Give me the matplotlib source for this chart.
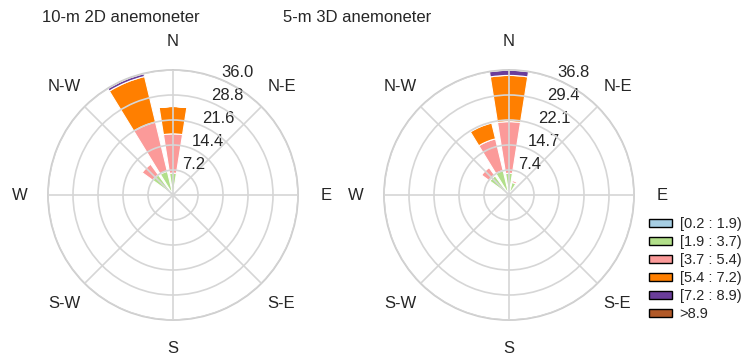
import numpy as np
import matplotlib
matplotlib.use('Agg')
import matplotlib.pyplot as plt
from matplotlib.patches import Patch

# Direções (graus, sentido bússola) onde há frequência
dir_deg = [315.0, 337.5, 0.0, 22.5]   # NW, NNW, N, NNE

# Classes de velocidade do vento
speed_bins = ['[0.2 : 1.9)', '[1.9 : 3.7)', '[3.7 : 5.4)', '[5.4 : 7.2)', '[7.2 : 8.9)', '>8.9']
bin_colors = ['#a6cee3', '#b2df8a', '#fb9a99', '#ff7f00', '#6a3d9a', '#b15928']

# Frequência (%) por classe (linhas) e direção (colunas)
freq_10m_2d = [
    [0.8, 1.0, 1.0, 0.5],
    [6.4, 6.0, 5.3, 0.3],
    [3.8, 14.6, 11.3, 0.0],
    [0.3, 13.5, 7.9, 0.0],
    [0.0, 0.9, 0.0, 0.0],
    [0.0, 0.0, 0.0, 0.0],
]
freq_5m_3d = [
    [0.8, 1.0, 1.2, 1.0],
    [6.2, 6.4, 5.2, 2.8],
    [3.0, 9.6, 15.2, 0.6],
    [0.2, 4.8, 13.6, 0.2],
    [0.0, 0.4, 1.6, 0.0],
    [0.0, 0.0, 0.0, 0.0],
]

titles = ['10-m 2D anemoneter', '5-m 3D anemoneter']
dir_labels = ['N', 'N-E', 'E', 'S-E', 'S', 'S-W', 'W', 'N-W']

plt.rcParams['font.family'] = ['Liberation Sans', 'DejaVu Sans']
plt.rcParams['text.color'] = '#262626'
plt.rcParams['xtick.color'] = '#262626'
plt.rcParams['ytick.color'] = '#262626'

fig = plt.figure(figsize=(7.44, 3.64), dpi=100)
W, H = 744, 364

def rosa(ax, freq):
    table = np.array(freq)
    theta = np.deg2rad(dir_deg)
    width = np.deg2rad(22.5) * 0.8
    bottom = np.zeros(len(dir_deg))
    for i in range(len(speed_bins)):
        ax.bar(theta, table[i], width=width, bottom=bottom, color=bin_colors[i],
               edgecolor='white', linewidth=0.8, align='center', zorder=1)
        bottom = bottom + table[i]
    rmax = table.sum(axis=0).max()
    ax.set_theta_zero_location('N')
    ax.set_theta_direction(-1)
    ax.set_ylim(0, rmax)
    radii = np.linspace(0, rmax, 6)[1:]
    ax.set_rgrids(radii, labels=[f'{r:.1f}' for r in radii], angle=22.5, fontsize=12)
    ax.set_thetagrids(range(0, 360, 45), dir_labels, fontsize=12)
    ax.tick_params(axis='x', pad=10)
    ax.set_axisbelow(False)
    ax.grid(True, color='#d6d6d6', linewidth=1.2, zorder=3)
    ax.spines['polar'].set_color('#cccccc')
    ax.spines['polar'].set_linewidth(1.3)
    ax.set_facecolor('white')

centers = [(173, 195), (509, 195)]
title_x = [121, 357]
R = 125
for k, freq in enumerate([freq_10m_2d, freq_5m_3d]):
    cx, cy = centers[k]
    ax = fig.add_axes([(cx - R) / W, (H - cy - R) / H, 2 * R / W, 2 * R / H], projection='polar')
    rosa(ax, freq)
    fig.text(title_x[k] / W, 1 - 17 / H, titles[k], ha='center', va='center', fontsize=12)

handles = [Patch(facecolor=c, edgecolor='black', linewidth=1.0) for c in bin_colors]
fig.legend(handles, speed_bins, loc='upper left', bbox_to_anchor=(649 / W, 1 - 217 / H),
           frameon=False, fontsize=10.5, handlelength=1.55, handleheight=0.5,
           handletextpad=0.55, labelspacing=0.28, borderpad=0, borderaxespad=0)

fig.savefig('out.png', dpi=100)
